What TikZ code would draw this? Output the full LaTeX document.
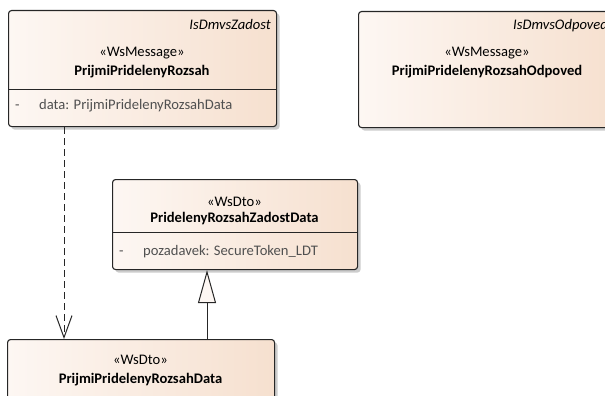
\documentclass[tikz,border=0pt]{standalone}
\usepackage{fontspec}
\setmainfont{Carlito}
\usetikzlibrary{shadows,arrows.meta}
\definecolor{boxL}{RGB}{253,247,243}
\definecolor{boxR}{RGB}{246,224,207}
\definecolor{attr}{RGB}{80,80,80}
\begin{document}
\begin{tikzpicture}[x=1pt,y=-1pt,
  umlbox/.style={draw=black!85, line width=1.1pt, rounded corners=3pt,
    left color=boxL, right color=boxR, anchor=north west, inner sep=0pt,
    drop shadow={shadow xshift=3pt, shadow yshift=-3pt, fill=black!20, opacity=1}},
  lbl/.style={anchor=base, inner sep=0pt, font=\fontsize{14.6}{17}\selectfont},
  bold/.style={lbl, font=\fontsize{14.6}{17}\selectfont\bfseries},
  ital/.style={lbl, anchor=base east, font=\fontsize{14.6}{17}\selectfont\itshape},
  att/.style={lbl, anchor=base west, text=attr},
  divider/.style={draw=black!85, line width=0.8pt},
  dep/.style={draw=black!85, line width=1pt, dash pattern=on 7pt off 4pt},
  gen/.style={draw=black!85, line width=1pt}
]
\useasboundingbox (0,0) rectangle (605,396);
% boxes
\node[umlbox, minimum width=268pt, minimum height=116pt] (b1) at (8,10) {};
\node[umlbox, minimum width=258pt, minimum height=116pt] (b2) at (358,11) {};
\node[umlbox, minimum width=245pt, minimum height=90pt] (b3) at (112,179) {};
\node[umlbox, minimum width=267pt, minimum height=80pt] (b4) at (7,339) {};
% box 1
\node[ital] (t1a) at (271,29.5) {IsDmvsZadost};
\node[lbl] (t1b) at (142,57) {«WsMessage»};
\node[bold] (t1c) at (142,76) {PrijmiPridelenyRozsah};
\draw[divider] (b1.west |- 0,89) coordinate (d1l) -- (b1.east |- 0,89) coordinate (d1r);
\node[att] (t1d) at (15,109) {-};
\node[att] (t1e) at (39,109) {data: PrijmiPridelenyRozsahData};
% box 2
\node[lbl, anchor=base west, font=\fontsize{14.6}{17}\selectfont\itshape] (t2a) at (513,29.5) {IsDmvsOdpoved};
\node[lbl] (t2b) at (487,57) {«WsMessage»};
\node[bold] (t2c) at (487,76) {PrijmiPridelenyRozsahOdpoved};
% box 3
\node[lbl] (t3b) at (234.5,206) {«WsDto»};
\node[bold] (t3c) at (234.5,222) {PridelenyRozsahZadostData};
\draw[divider] (b3.west |- 0,232) -- (b3.east |- 0,232);
\node[att] (t3d) at (119,255) {-};
\node[att] (t3e) at (143,255) {pozadavek: SecureToken\_LDT};
% box 4
\node[lbl] (t4b) at (140.5,364) {«WsDto»};
\node[bold] (t4c) at (140.5,383) {PrijmiPridelenyRozsahData};
% connectors
\coordinate (dx) at (64,0);
\coordinate (gx) at (207,0);
\draw[dep, -{Straight Barb[length=22pt, width=16pt, line width=1pt]}] (b1.south -| dx) -- (b4.north -| dx);
\draw[gen, -{Triangle[open, length=33pt, width=18pt, line width=1pt, fill=boxL]}] (b4.north -| gx) -- (b3.south -| gx);
\end{tikzpicture}
\end{document}
